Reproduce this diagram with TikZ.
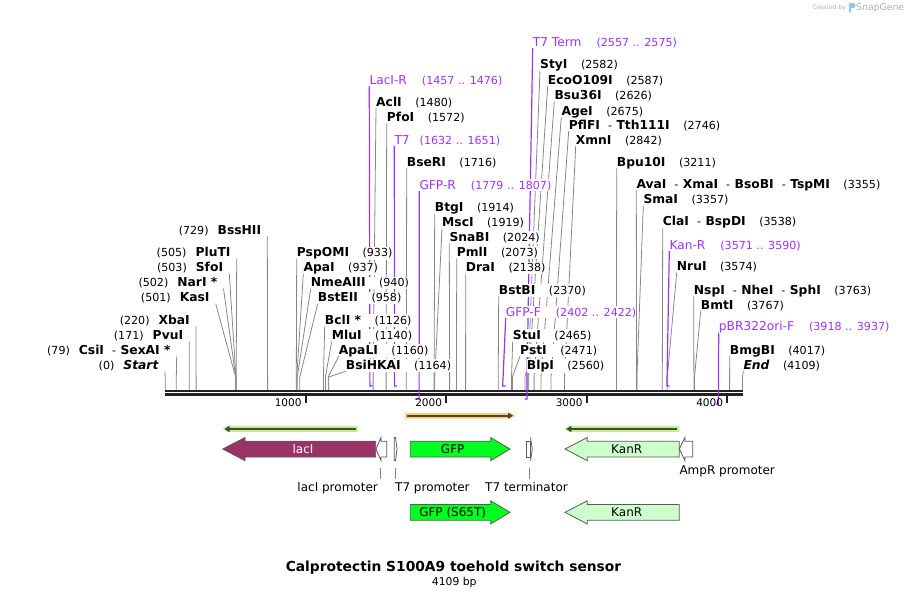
\documentclass[tikz,border=0pt]{standalone}
\usepackage{fontspec}
\setmainfont{DejaVu Sans}
\usetikzlibrary{arrows.meta,backgrounds}

\definecolor{cutgray}{RGB}{135,135,135}
\definecolor{primer}{RGB}{158,50,245}
\definecolor{spine}{RGB}{34,34,34}
\definecolor{laci}{RGB}{153,51,102}
\definecolor{gfp}{RGB}{0,255,30}
\definecolor{kanr}{RGB}{204,255,204}
\definecolor{orfgreen}{RGB}{190,240,140}
\definecolor{orforange}{RGB}{255,205,125}
\definecolor{orfdark}{RGB}{70,72,58}
\definecolor{featedge}{RGB}{90,90,90}
\definecolor{logogray}{RGB}{175,175,175}
\definecolor{logoblue}{RGB}{150,200,230}

\newcommand{\enzn}[1]{{\fontsize{12.3}{13}\selectfont\textbf{#1}}}
\newcommand{\enzp}[1]{\hspace{13.5pt}(#1)}
\newcommand{\enzq}[1]{(#1)\hspace{9pt}}
\newcommand{\enzsep}{\hspace{8pt}-\hspace{4.5pt}}
\newcommand{\oligon}[1]{{\fontsize{12.2}{13}\selectfont #1}}
\newcommand{\oligop}[1]{\hspace{15pt}(#1)}

\tikzset{
  enz/.style={inner xsep=0pt, inner ysep=1pt, fill=white, anchor=base west, font=\fontsize{11.1}{13}\selectfont},
  enzleft/.style={enz, anchor=base east},
  oligotext/.style={enz, text=primer},
  cut/.style={draw=cutgray, line width=0.8pt},
  oligo/.style={draw=primer, line width=1.2pt},
  spineline/.style={draw=spine, line width=2.2pt},
  ruler/.style={inner sep=0pt, anchor=base east, font=\fontsize{10.5}{12}\selectfont},
  feat/.style={draw=featedge, line width=0.8pt},
  featlabel/.style={inner sep=0pt, font=\fontsize{12}{14}\selectfont},
  marker/.style={draw=gray, line width=0.8pt},
  orfline/.style={draw=orfdark, line width=1.6pt},
}

\begin{document}
\begin{tikzpicture}[x=1pt,y=-1pt]
\useasboundingbox (0,0) rectangle (909,597);

% credit
\node[inner sep=0pt, anchor=base west, text=logogray, font=\fontsize{6.1}{7}\selectfont] (made) at (812.3,9.5) {Created by};
\fill[logoblue] (849,3) -- (853.5,3) .. controls (856,3) and (856,8) .. (853.5,8) -- (851,8) -- (851,12.5) -- (849,12.5) -- cycle;
\node[inner sep=0pt, anchor=base west, text=logogray, font=\fontsize{9.3}{11}\selectfont] (brand) at (856,10.5) {SnapGene};

\coordinate (bend) at (0,377);
\coordinate (bb-l) at (165,390.9);
\coordinate (bb-r) at (743,390.9);

% sites, left side
\coordinate (start) at (165.2,389.8);
\node[enzleft] (start-l) at (159,369.3) {\enzq{0}\enzn{\textit{Start}}};
\coordinate (csiI) at (176.3,389.8);
\node[enzleft] (csiI-l) at (170.7,354.3) {\enzq{79}\enzn{CsiI}\enzsep\enzn{SexAI *}};
\coordinate (pvuI) at (189.2,389.8);
\node[enzleft] (pvuI-l) at (183.3,339.3) {\enzq{171}\enzn{PvuI}};
\coordinate (xbaI) at (196.1,389.8);
\node[enzleft] (xbaI-l) at (190,324.3) {\enzq{220}\enzn{XbaI}};
\coordinate (kasI) at (235.6,389.8);
\node[enzleft] (kasI-l) at (209.7,301.7) {\enzq{501}\enzn{KasI}};
\coordinate (narI) at (235.7,389.8);
\node[enzleft] (narI-l) at (217.5,286.7) {\enzq{502}\enzn{NarI *}};
\coordinate (sfoI) at (235.9,389.8);
\node[enzleft] (sfoI-l) at (223.3,271.7) {\enzq{503}\enzn{SfoI}};
\coordinate (pluTI) at (236.2,389.8);
\node[enzleft] (pluTI-l) at (230.7,256.7) {\enzq{505}\enzn{PluTI}};
\coordinate (bssHII) at (267.6,389.8);
\node[enzleft] (bssHII-l) at (261.3,234) {\enzq{729}\enzn{BssHII}};

% sites, right side
\coordinate (pspOMI) at (296.3,389.8);
\node[enz] (pspOMI-l) at (296.7,256.7) {\enzn{PspOMI}\enzp{933}};
\coordinate (apaI) at (296.8,389.8);
\node[enz] (apaI-l) at (303.3,271.7) {\enzn{ApaI}\enzp{937}};
\coordinate (nmeAIII) at (297.3,389.8);
\node[enz] (nmeAIII-l) at (310.7,286.7) {\enzn{NmeAIII}\enzp{940}};
\coordinate (bstEII) at (299.8,389.8);
\node[enz] (bstEII-l) at (317.7,301.7) {\enzn{BstEII}\enzp{958}};
\coordinate (bclI) at (323.4,389.8);
\node[enz] (bclI-l) at (324.7,324.3) {\enzn{BclI *}\enzp{1126}};
\coordinate (mluI) at (325.4,389.8);
\node[enz] (mluI-l) at (331.7,339.3) {\enzn{MluI}\enzp{1140}};
\coordinate (apaLI) at (328.2,389.8);
\node[enz] (apaLI-l) at (338.7,354.3) {\enzn{ApaLI}\enzp{1160}};
\coordinate (bsiHKAI) at (328.7,389.8);
\node[enz] (bsiHKAI-l) at (345.7,369.3) {\enzn{BsiHKAI}\enzp{1164}};
\coordinate (aclI) at (373.1,389.8);
\node[enz] (aclI-l) at (376,106) {\enzn{AclI}\enzp{1480}};
\coordinate (pfoI) at (386.1,389.8);
\node[enz] (pfoI-l) at (386.7,121.3) {\enzn{PfoI}\enzp{1572}};
\coordinate (bseRI) at (406.3,389.8);
\node[enz] (bseRI-l) at (406.7,166) {\enzn{BseRI}\enzp{1716}};
\coordinate (btgI) at (434.1,389.8);
\node[enz] (btgI-l) at (434.7,211.3) {\enzn{BtgI}\enzp{1914}};
\coordinate (mscI) at (434.8,389.8);
\node[enz] (mscI-l) at (442,226.3) {\enzn{MscI}\enzp{1919}};
\coordinate (snaBI) at (449.6,389.8);
\node[enz] (snaBI-l) at (449.3,241.3) {\enzn{SnaBI}\enzp{2024}};
\coordinate (pmlI) at (456.5,389.8);
\node[enz] (pmlI-l) at (456.7,256.3) {\enzn{PmlI}\enzp{2073}};
\coordinate (draI) at (465.6,389.8);
\node[enz] (draI-l) at (465.7,271.7) {\enzn{DraI}\enzp{2138}};
\coordinate (bstBI) at (498.2,389.8);
\node[enz] (bstBI-l) at (498.7,294.3) {\enzn{BstBI}\enzp{2370}};
\coordinate (stuI) at (511.5,389.8);
\node[enz] (stuI-l) at (512.7,339.3) {\enzn{StuI}\enzp{2465}};
\coordinate (pstI) at (512.4,389.8);
\node[enz] (pstI-l) at (520,354.3) {\enzn{PstI}\enzp{2471}};
\coordinate (blpI) at (524.9,389.8);
\node[enz] (blpI-l) at (526.7,369.3) {\enzn{BlpI}\enzp{2560}};
\coordinate (styI) at (528,389.8);
\node[enz] (styI-l) at (540,68) {\enzn{StyI}\enzp{2582}};
\coordinate (ecoO109I) at (528.7,389.8);
\node[enz] (ecoO109I-l) at (547.7,84) {\enzn{EcoO109I}\enzp{2587}};
\coordinate (bsu36I) at (534.1,389.8);
\node[enz] (bsu36I-l) at (554.3,99.3) {\enzn{Bsu36I}\enzp{2626}};
\coordinate (ageI) at (541,389.8);
\node[enz] (ageI-l) at (561.3,115) {\enzn{AgeI}\enzp{2675}};
\coordinate (pflFI) at (551,389.8);
\node[enz] (pflFI-l) at (568.7,129) {\enzn{PflFI}\enzsep\enzn{Tth111I}\enzp{2746}};
\coordinate (xmnI) at (564.5,389.8);
\node[enz] (xmnI-l) at (575.7,144) {\enzn{XmnI}\enzp{2842}};
\coordinate (bpu10I) at (616.4,389.8);
\node[enz] (bpu10I-l) at (616.7,166) {\enzn{Bpu10I}\enzp{3211}};
\coordinate (avaI) at (636.6,389.8);
\node[enz] (avaI-l) at (636.3,188) {\enzn{AvaI}\enzsep\enzn{XmaI}\enzsep\enzn{BsoBI}\enzsep\enzn{TspMI}\enzp{3355}};
\coordinate (smaI) at (636.9,389.8);
\node[enz] (smaI-l) at (643.3,203.5) {\enzn{SmaI}\enzp{3357}};
\coordinate (claI) at (662.3,389.8);
\node[enz] (claI-l) at (662.7,225.5) {\enzn{ClaI}\enzsep\enzn{BspDI}\enzp{3538}};
\coordinate (nruI) at (667.3,389.8);
\node[enz] (nruI-l) at (676.7,270.7) {\enzn{NruI}\enzp{3574}};
\coordinate (nspI) at (693.9,389.8);
\node[enz] (nspI-l) at (693.7,294) {\enzn{NspI}\enzsep\enzn{NheI}\enzsep\enzn{SphI}\enzp{3763}};
\coordinate (bmtI) at (694.5,389.8);
\node[enz] (bmtI-l) at (700.7,309) {\enzn{BmtI}\enzp{3767}};
\coordinate (bmgBI) at (729.6,389.8);
\node[enz] (bmgBI-l) at (729.7,354) {\enzn{BmgBI}\enzp{4017}};
\coordinate (seqend) at (742.5,389.8);
\node[enz] (seqend-l) at (743.3,369) {\enzn{\textit{End}}\enzp{4109}};

% primers
\coordinate (lacIR) at (369.9,386);
\node[oligotext] (lacIR-l) at (369.3,84.3) {\oligon{LacI-R}\oligop{1457 .. 1476}};
\coordinate (t7p) at (394.5,386);
\node[oligotext] (t7p-l) at (394.3,144) {\oligon{T7}\hspace{10pt}(1632 .. 1651)};
\coordinate (gfpR) at (419.1,399);
\node[oligotext] (gfpR-l) at (419.3,189) {\oligon{GFP-R}\oligop{1779 .. 1807}};
\coordinate (gfpF) at (502.7,386);
\node[oligotext] (gfpF-l) at (505.7,316) {\oligon{GFP-F}\oligop{2402 .. 2422}};
\coordinate (t7term) at (527,399);
\node[oligotext] (t7term-l) at (532.7,46) {\oligon{T7 Term}\oligop{2557 .. 2575}};
\coordinate (kanR) at (666.9,386);
\node[oligotext] (kanR-l) at (669.3,249) {\oligon{Kan-R}\oligop{3571 .. 3590}};
\coordinate (pbr) at (718.3,404);
\node[oligotext] (pbr-l) at (718.7,330.7) {\oligon{pBR322ori-F}\oligop{3918 .. 3937}};

% connectors go under the labels
\begin{scope}[on background layer]
\draw[spineline] (bb-l) -- (bb-r);
\draw[spineline] ([yshift=-3.6pt]bb-l) -- ([yshift=-3.6pt]bb-r);
\foreach \s in {start,csiI,pvuI,xbaI,kasI,narI,sfoI,pluTI,bssHII}
  \draw[cut] ([shift={(6pt,-2pt)}]\s-l.base east) -- (\s |- bend) -- (\s);
\foreach \s in {pspOMI,apaI,nmeAIII,bstEII,bclI,mluI,apaLI,bsiHKAI,aclI,pfoI,bseRI,btgI,mscI,snaBI,pmlI,draI,bstBI,stuI,pstI,blpI,styI,ecoO109I,bsu36I,ageI,pflFI,xmnI,bpu10I,avaI,smaI,claI,nruI,nspI,bmtI,bmgBI,seqend}
  \draw[cut] ([yshift=-2pt]\s-l.base west) -- (\s |- bend) -- (\s);
\draw[oligo] ([yshift=-2pt]lacIR-l.base west) -- (lacIR) -- ++(2.7,0);
\draw[oligo] ([yshift=-2pt]t7p-l.base west) -- (t7p) -- ++(2.7,0);
\draw[oligo] ([yshift=-2pt]gfpR-l.base west) -- (gfpR) -- ++(-4,0);
\draw[oligo] ([yshift=-2pt]gfpF-l.base west) -- (gfpF) -- ++(2.8,0);
\draw[oligo] ([yshift=-2pt]t7term-l.base west) -- (t7term |- bend) -- (t7term) -- ++(-2.5,0);
\draw[oligo] ([yshift=-2pt]kanR-l.base west) -- (kanR) -- ++(2.7,0);
\draw[oligo] ([yshift=-2pt]pbr-l.base west) -- (pbr) -- ++(-2.6,0);
\end{scope}

% ruler
\foreach \k/\x in {1/305.7,2/446.2,3/586.7,4/727.2} {
  \draw[draw=spine, line width=2pt] (\x,395) -- (\x,403);
  \node[ruler] (tick\k) at (\x-4,406) {\k000};
}

% open reading frames
\fill[orforange] (405,412.8) -- (511,412.8) -- (515.5,415.7) -- (511,418.6) -- (405,418.6) -- cycle;
\draw[orfline, -{Triangle[length=5pt,width=6pt]}] (407,415.7) -- (513,415.7);
\fill[orfgreen] (222.5,429) -- (227,426.1) -- (357.5,426.1) -- (357.5,431.9) -- (227,431.9) -- cycle;
\draw[orfline, -{Triangle[length=5pt,width=6pt]}] (355.5,429) -- (224.5,429);
\fill[orfgreen] (564.3,429) -- (568.8,426.1) -- (679.3,426.1) -- (679.3,431.9) -- (568.8,431.9) -- cycle;
\draw[orfline, -{Triangle[length=5pt,width=6pt]}] (677.3,429) -- (566.3,429);

% features
\filldraw[feat, fill=laci] (222.7,449) -- (245,437.5) -- (245,441.2) -- (375.7,441.2) -- (375.7,457) -- (245,457) -- (245,460.7) -- cycle;
\node[featlabel, text=white] (lacI-f) at (303,449) {lacI};
\filldraw[feat, fill=white] (376,449) -- (381,437.5) -- (381,441.2) -- (386.7,441.2) -- (386.7,457) -- (381,457) -- (381,460.7) -- cycle;
\filldraw[feat, fill=white] (394.3,437.5) -- (395.5,437.5) -- (397,449) -- (395.5,460.7) -- (394.3,460.7) -- cycle;
\filldraw[feat, fill=gfp] (410.3,441.2) -- (490.7,441.2) -- (490.7,437.5) -- (510,449) -- (490.7,460.7) -- (490.7,457) -- (410.3,457) -- cycle;
\node[featlabel] (gfp-f) at (452.7,449) {GFP};
\filldraw[feat, fill=white] (526,441.2) rectangle (530.5,457);
\draw[feat] (530.5,437.5) -- (532.3,449) -- (530.5,460.7);
\filldraw[feat, fill=kanr] (565,449) -- (587.3,437.5) -- (587.3,441.2) -- (679.3,441.2) -- (679.3,457) -- (587.3,457) -- (587.3,460.7) -- cycle;
\node[featlabel] (kanr-f) at (626.7,449) {KanR};
\filldraw[feat, fill=white] (679.3,449) -- (685,437.5) -- (685,441.2) -- (692.7,441.2) -- (692.7,457) -- (685,457) -- (685,460.7) -- cycle;

% feature labels
\coordinate (lacIp) at (380.7,468);
\node[featlabel, anchor=base east] (lacIp-l) at (378,491) {lacI promoter};
\draw[marker, shorten >=3pt] (lacIp) -- (lacIp |- lacIp-l.north);
\coordinate (t7prom) at (395.7,468);
\node[featlabel, anchor=base west] (t7prom-l) at (395,491) {T7 promoter};
\draw[marker, shorten >=3pt] (t7prom) -- (t7prom |- t7prom-l.north);
\coordinate (t7t) at (529.3,468);
\node[featlabel, anchor=base] (t7t-l) at (526.5,491) {T7 terminator};
\draw[marker, shorten >=3pt] (t7t) -- (t7t |- t7t-l.north);
\node[featlabel, anchor=base west] (ampRp-l) at (679.3,474.3) {AmpR promoter};

% second row
\filldraw[feat, fill=gfp] (410.3,504.5) -- (490.7,504.5) -- (490.7,500.8) -- (510,512.3) -- (490.7,524) -- (490.7,520.3) -- (410.3,520.3) -- cycle;
\node[featlabel] (gfp2-f) at (452.7,512.3) {GFP (S65T)};
\filldraw[feat, fill=kanr] (565,512.3) -- (587.3,500.8) -- (587.3,504.5) -- (679.3,504.5) -- (679.3,520.3) -- (587.3,520.3) -- (587.3,524) -- cycle;
\node[featlabel] (kanr2-f) at (626.7,512.3) {KanR};

% title
\node[inner sep=0pt, anchor=base, font=\bfseries\fontsize{13.8}{16}\selectfont] (title) at (453.5,571) {Calprotectin S100A9 toehold switch sensor};
\node[inner sep=0pt, anchor=base, font=\fontsize{10.8}{13}\selectfont] (size) at (454.3,585) {4109 bp};
\end{tikzpicture}
\end{document}
